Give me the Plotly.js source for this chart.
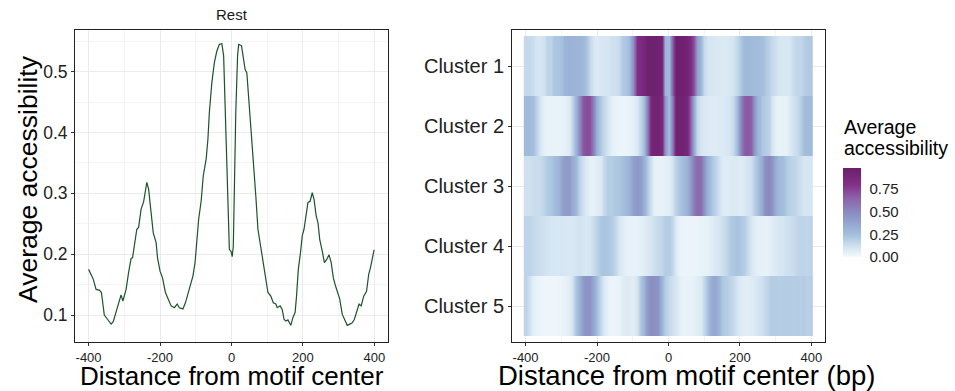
<!DOCTYPE html>
<html>
<head>
<meta charset="utf-8">
<script src="https://cdn.plot.ly/plotly-3.0.1.min.js"></script>
<style>html,body{margin:0;padding:0;background:#fff;}#chart{width:955px;height:391px;}</style>
</head>
<body>
<div id="chart"></div>
<script>
// ---- Left panel: average accessibility profile (Rest) ----
const lineX = [-400,-393,-387,-379,-370,-364,-356,-347,-337,-331,-323,-316,-309,-304,-295,-288,-281,-277,-271,-265,-260,-253,-246,-241,-237,-232,-225,-219,-211,-207,-200,-193,-185,-178,-169,-160,-152,-146,-136,-129,-122,-116,-108,-102,-97,-92,-85,-79,-71,-66,-62,-55,-48,-41,-34,-27,-22,-18,-13,-8,-6,-1,2,5,8,12,17,20,28,33,38,43,48,54,61,68,74,82,89,96,102,110,117,124,128,136,142,147,152,158,166,172,178,182,187,193,198,203,209,214,220,226,231,237,242,247,254,260,266,273,279,285,291,298,303,310,316,324,331,338,344,352,357,363,370,378,384,389,394,399];
const lineY = [0.175,0.167,0.159,0.142,0.141,0.137,0.100,0.093,0.085,0.089,0.104,0.119,0.133,0.123,0.142,0.170,0.193,0.194,0.219,0.241,0.244,0.274,0.286,0.301,0.318,0.307,0.271,0.235,0.219,0.194,0.172,0.161,0.137,0.127,0.115,0.112,0.118,0.112,0.110,0.120,0.134,0.148,0.164,0.186,0.224,0.257,0.287,0.329,0.356,0.389,0.433,0.482,0.515,0.534,0.545,0.546,0.526,0.438,0.339,0.246,0.208,0.204,0.196,0.213,0.323,0.433,0.526,0.545,0.543,0.526,0.504,0.498,0.460,0.405,0.350,0.296,0.241,0.213,0.186,0.159,0.137,0.131,0.120,0.118,0.112,0.115,0.109,0.093,0.090,0.092,0.083,0.096,0.104,0.131,0.175,0.202,0.230,0.241,0.268,0.285,0.287,0.301,0.290,0.263,0.252,0.224,0.205,0.186,0.191,0.199,0.186,0.161,0.148,0.134,0.126,0.101,0.093,0.083,0.085,0.087,0.093,0.109,0.118,0.115,0.131,0.139,0.167,0.178,0.191,0.207];

// ---- Right panel: heatmap by cluster ----
const binX = [-400,-390,-380,-370,-360,-350,-340,-330,-320,-310,-300,-290,-280,-270,-260,-250,-240,-230,-220,-210,-200,-190,-180,-170,-160,-150,-140,-130,-120,-110,-100,-90,-80,-70,-60,-50,-40,-30,-20,-10,0,10,20,30,40,50,60,70,80,90,100,110,120,130,140,150,160,170,180,190,200,210,220,230,240,250,260,270,280,290,300,310,320,330,340,350,360,370,380,390,400];
const clusterLabels = ['Cluster 1','Cluster 2','Cluster 3','Cluster 4','Cluster 5'];
const cluster1 = [0.15,0.15,0.13,0.10,0.10,0.11,0.17,0.17,0.22,0.22,0.24,0.30,0.31,0.31,0.30,0.30,0.28,0.22,0.15,0.09,0.08,0.09,0.10,0.10,0.12,0.12,0.14,0.20,0.22,0.25,0.45,0.80,0.85,0.88,0.95,0.96,0.96,0.95,0.93,0.30,0.25,0.60,0.95,0.96,0.95,0.92,0.85,0.70,0.40,0.28,0.15,0.10,0.10,0.09,0.09,0.08,0.08,0.09,0.10,0.15,0.20,0.27,0.28,0.27,0.26,0.26,0.25,0.22,0.18,0.15,0.12,0.10,0.09,0.10,0.10,0.14,0.16,0.16,0.19,0.21,0.21];
const cluster2 = [0.27,0.27,0.25,0.17,0.10,0.05,0.04,0.04,0.04,0.04,0.04,0.05,0.07,0.15,0.30,0.45,0.68,0.72,0.70,0.50,0.30,0.20,0.15,0.10,0.05,0.04,0.03,0.03,0.03,0.04,0.05,0.08,0.15,0.25,0.50,0.88,0.93,0.93,0.90,0.45,0.25,0.50,0.92,0.94,0.93,0.90,0.70,0.35,0.15,0.10,0.09,0.08,0.07,0.07,0.08,0.08,0.09,0.10,0.14,0.25,0.45,0.66,0.68,0.66,0.45,0.30,0.22,0.20,0.18,0.10,0.05,0.04,0.04,0.05,0.08,0.12,0.14,0.20,0.25,0.27,0.27];
const cluster3 = [0.12,0.12,0.13,0.14,0.14,0.17,0.20,0.22,0.25,0.28,0.38,0.42,0.42,0.35,0.28,0.18,0.12,0.07,0.05,0.05,0.06,0.08,0.15,0.20,0.20,0.21,0.22,0.24,0.27,0.30,0.40,0.43,0.42,0.32,0.22,0.12,0.05,0.04,0.04,0.05,0.06,0.10,0.18,0.22,0.25,0.30,0.40,0.55,0.62,0.60,0.45,0.30,0.22,0.18,0.12,0.08,0.07,0.07,0.08,0.08,0.07,0.08,0.10,0.12,0.18,0.25,0.35,0.47,0.50,0.45,0.33,0.27,0.25,0.20,0.18,0.17,0.15,0.12,0.10,0.10,0.10];
const cluster4 = [0.17,0.17,0.15,0.14,0.13,0.12,0.11,0.10,0.10,0.09,0.10,0.10,0.09,0.09,0.10,0.11,0.10,0.09,0.10,0.14,0.18,0.22,0.23,0.22,0.20,0.16,0.10,0.07,0.05,0.04,0.04,0.04,0.05,0.06,0.08,0.10,0.12,0.14,0.16,0.20,0.20,0.17,0.08,0.04,0.03,0.03,0.03,0.03,0.03,0.04,0.04,0.05,0.06,0.08,0.10,0.12,0.15,0.19,0.22,0.23,0.22,0.20,0.15,0.10,0.07,0.05,0.05,0.04,0.05,0.06,0.08,0.10,0.10,0.12,0.12,0.14,0.16,0.17,0.17,0.16,0.18];
const cluster5 = [0.17,0.12,0.06,0.04,0.03,0.02,0.02,0.02,0.02,0.02,0.03,0.04,0.06,0.10,0.22,0.30,0.42,0.46,0.45,0.35,0.25,0.15,0.08,0.04,0.03,0.03,0.04,0.06,0.08,0.08,0.06,0.10,0.20,0.30,0.42,0.48,0.47,0.45,0.30,0.20,0.15,0.12,0.10,0.06,0.04,0.04,0.04,0.05,0.06,0.08,0.15,0.25,0.35,0.36,0.30,0.22,0.20,0.18,0.15,0.10,0.08,0.06,0.06,0.07,0.08,0.10,0.12,0.15,0.18,0.20,0.20,0.19,0.20,0.20,0.20,0.19,0.20,0.19,0.20,0.18,0.20];
const clusterRows = [cluster1, cluster2, cluster3, cluster4, cluster5];

const xTickVals = [-400,-200,0,200,400];
const xTickText = ['-400','-200','0','200','400'];
const yTickVals = [0.1,0.2,0.3,0.4,0.5];
const yTickText = ['0.1','0.2','0.3','0.4','0.5'];
const cbTickVals = [0,0.25,0.5,0.75];
const cbTickText = ['0.00','0.25','0.50','0.75'];

const W = 955, H = 391;
const px = v => v / W;
const py = v => 1 - v / H;
const FONT = 'Liberation Sans, Arial, Helvetica, sans-serif';

const zmax = 0.98;
const stops = [[0,'#f4fafd'],[0.1,'#d6e6f2'],[0.25,'#a3bfdd'],[0.45,'#8c95c6'],[0.65,'#8c62aa'],[0.8,'#832f88'],[0.98,'#6b1f6b']];
const colorscale = stops.map(s => [s[0] / zmax, s[1]]);

const traces = [{
  type: 'scatter', mode: 'lines', x: lineX, y: lineY,
  line: {color: '#1b532a', width: 1.2}, xaxis: 'x', yaxis: 'y', hoverinfo: 'skip', showlegend: false
}];
clusterRows.forEach((row, i) => {
  traces.push({
    type: 'heatmap', x: binX, y: [i + 1 - 0.25, i + 1 + 0.25], z: [row, row],
    zsmooth: 'best', coloraxis: 'coloraxis', xaxis: 'x2', yaxis: 'y2', hoverinfo: 'skip'
  });
});

const axisCommon = {
  showline: true, mirror: true, linecolor: '#222', linewidth: 1,
  ticks: 'outside', ticklen: 3, tickcolor: '#333', tickwidth: 1,
  showgrid: true, gridcolor: '#ebebeb', gridwidth: 1, zeroline: false, automargin: false
};

const layout = {
  width: W, height: H,
  margin: {l: 0, r: 0, t: 0, b: 0},
  paper_bgcolor: '#ffffff', plot_bgcolor: '#ffffff',
  font: {family: FONT, color: '#000'},
  showlegend: false,
  xaxis: Object.assign({}, axisCommon, {
    domain: [px(75), px(388)], range: [-438, 438], anchor: 'y',
    tickmode: 'array', tickvals: xTickVals, ticktext: xTickText,
    tickfont: {size: 13, color: '#222'},
    minor: {showgrid: true, gridcolor: '#f4f4f4', tickmode: 'array', tickvals: [-300,-100,100,300], ticks: ''}
  }),
  yaxis: Object.assign({}, axisCommon, {
    domain: [py(342), py(30)], range: [0.0556, 0.5686], anchor: 'x',
    tickmode: 'array', tickvals: yTickVals, ticktext: yTickText,
    tickfont: {size: 17.5, color: '#222'},
    minor: {showgrid: true, gridcolor: '#f4f4f4', tickmode: 'array', tickvals: [0.15,0.25,0.35,0.45,0.55], ticks: ''}
  }),
  xaxis2: Object.assign({}, axisCommon, {
    domain: [px(512), px(825)], range: [-438, 438], anchor: 'y2',
    tickmode: 'array', tickvals: xTickVals, ticktext: xTickText,
    tickfont: {size: 13, color: '#222'},
    minor: {showgrid: true, gridcolor: '#f4f4f4', tickmode: 'array', tickvals: [-300,-100,100,300], ticks: ''}
  }),
  yaxis2: Object.assign({}, axisCommon, {
    domain: [py(342), py(30)], range: [5.6, 0.4], anchor: 'x2',
    tickmode: 'array', tickvals: [1,2,3,4,5], ticktext: clusterLabels,
    tickfont: {size: 20, color: '#222'}
  }),
  coloraxis: {
    cmin: 0, cmax: zmax, colorscale: colorscale,
    colorbar: {
      x: px(843), xanchor: 'left', y: py(212.5), yanchor: 'middle',
      len: 89 / H, lenmode: 'fraction', thickness: 18, thicknessmode: 'pixels',
      outlinewidth: 0, xpad: 0, ypad: 0,
      tickmode: 'array', tickvals: cbTickVals, ticktext: cbTickText,
      ticks: 'outside', ticklen: 6, tickcolor: 'rgba(255,255,255,0)', tickwidth: 1,
      tickfont: {size: 15, color: '#222', family: FONT}
    }
  },
  annotations: [
    {text: 'Rest', x: px(232), y: py(15), xref: 'paper', yref: 'paper', showarrow: false, font: {size: 15, color: '#1a1a1a'}, xanchor: 'center', yanchor: 'middle'},
    {text: 'Average', x: px(842), y: py(127), xref: 'paper', yref: 'paper', showarrow: false, font: {size: 19.5, color: '#000'}, xanchor: 'left', yanchor: 'middle'},
    {text: 'accessibility', x: px(842), y: py(148), xref: 'paper', yref: 'paper', showarrow: false, font: {size: 19.5, color: '#000'}, xanchor: 'left', yanchor: 'middle'},
    {text: 'Distance from motif center', x: px(232), y: py(376), xref: 'paper', yref: 'paper', showarrow: false, font: {size: 26, color: '#000'}, xanchor: 'center', yanchor: 'middle', borderpad: 0},
    {text: 'Distance from motif center (bp)', x: px(686), y: py(375), xref: 'paper', yref: 'paper', showarrow: false, font: {size: 27.5, color: '#000'}, xanchor: 'center', yanchor: 'middle', borderpad: 0},
    {text: 'Average accessibility', x: px(28), y: py(179), xref: 'paper', yref: 'paper', showarrow: false, textangle: -90, font: {size: 26.5, color: '#000'}, xanchor: 'center', yanchor: 'middle'}
  ]
};

Plotly.newPlot('chart', traces, layout, {staticPlot: true, displayModeBar: false});
</script>
</body>
</html>
